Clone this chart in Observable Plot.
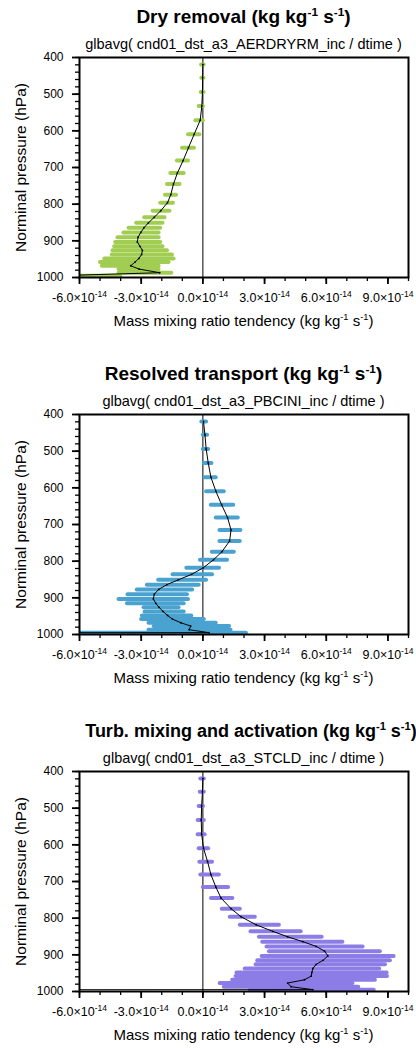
<!DOCTYPE html>
<html><head><meta charset="utf-8">
<script src="https://cdn.jsdelivr.net/npm/d3@7"></script>
<script src="https://cdn.jsdelivr.net/npm/@observablehq/plot@0.6"></script>
<style>
body{margin:0;background:#fff;font-family:"Liberation Sans",Arial,Helvetica,sans-serif;color:#000;}
#root{position:relative;width:416px;height:1049px;overflow:hidden;background:#fff;}
.panel{position:absolute;left:0;width:416px;height:357px;}
.title{position:absolute;top:6px;left:0;width:487px;text-align:center;font-weight:bold;font-size:19px;line-height:22px;white-space:nowrap;z-index:2;}
.sub{position:absolute;top:35px;left:0;width:487px;text-align:center;font-size:14.5px;line-height:18px;white-space:nowrap;z-index:2;}
.xt{position:absolute;top:312px;left:0;width:487px;text-align:center;font-size:15px;line-height:18px;white-space:nowrap;z-index:2;}
sup{font-size:0.62em;vertical-align:0.6em;line-height:0;}
svg{position:absolute;left:0;top:50px;z-index:1;}
</style>
</head><body>
<div id="root"></div>
<script>
// Pressure levels (hPa); last one is the surface-adjacent level with extreme values
const levels = [419, 455, 494, 532, 571, 609, 646, 681, 715, 745, 774, 796, 818, 836, 851, 864, 877, 890, 903, 915, 926, 937, 948, 958, 968, 977, 987, 995, 998];

// Values in units of 1e-14 kg kg-1 s-1
const dryMin  = [-0.06, -0.05, -0.08, -0.18, -0.34, -0.70, -0.99, -1.24, -1.56, -1.72, -1.82, -2.05, -2.42, -2.83, -3.22, -3.59, -3.84, -4.13, -4.24, -4.29, -4.37, -4.41, -4.77, -4.98, -4.89, -4.08, -4.08, -9.0, null];
const dryMax  = [0.06, 0.05, 0.06, 0.03, 0.02, -0.15, -0.41, -0.70, -0.91, -1.11, -1.28, -1.43, -1.60, -1.84, -1.94, -2.05, -2.13, -2.13, -2.05, -1.94, -1.72, -1.48, -1.40, -1.64, -2.13, -2.13, -1.51, -4.0, null];
const dryMean = [0.0, -0.01, -0.02, -0.05, -0.13, -0.42, -0.70, -0.96, -1.24, -1.43, -1.56, -1.72, -2.05, -2.37, -2.65, -2.86, -3.02, -3.15, -3.19, -3.06, -2.94, -2.98, -3.11, -3.30, -3.51, -3.10, -2.10, -7.0, -300];

const resMin  = [-0.05, 0.02, 0.02, 0.07, 0.11, 0.18, 0.41, 0.65, 0.83, 0.83, 0.46, -0.12, -0.78, -1.45, -2.15, -2.70, -3.19, -3.64, -4.08, -3.67, -2.86, -2.81, -2.94, -2.98, -2.62, -2.37, -2.62, -8.0, null];
const resMax  = [0.18, 0.23, 0.28, 0.44, 0.65, 1.04, 1.50, 1.72, 1.85, 1.82, 1.53, 1.20, 0.81, 0.47, 0.18, -0.18, -0.50, -0.75, -0.70, -0.91, -1.16, -0.91, -0.54, 0.07, 0.65, 1.30, 1.37, 2.12, null];
const resMean = [0.03, 0.10, 0.16, 0.26, 0.39, 0.63, 0.91, 1.20, 1.37, 1.30, 0.93, 0.52, 0.02, -0.55, -1.20, -1.75, -2.15, -2.36, -2.41, -2.29, -2.13, -1.94, -1.72, -1.48, -1.07, -0.59, -0.67, 0.30, -300];

const turbMin  = [-0.10, -0.13, -0.18, -0.23, -0.23, -0.18, -0.15, -0.10, 0.02, 0.42, 0.94, 1.33, 1.82, 2.34, 2.75, 2.91, 3.12, 3.24, 2.88, 2.67, 2.59, 2.06, 1.66, 1.61, 1.45, 0.84, 1.04, 2.31, null];
const turbMax  = [0.07, 0.07, 0.03, 0.07, 0.11, 0.28, 0.47, 0.80, 1.25, 1.46, 1.82, 2.55, 3.72, 4.78, 5.80, 6.81, 7.79, 8.63, 9.30, 9.12, 8.88, 8.60, 8.96, 8.98, 8.39, 7.30, 7.58, 8.33, null];
const turbMean = [0.0, -0.02, -0.06, -0.08, -0.06, 0.03, 0.23, 0.39, 0.63, 0.88, 1.37, 1.85, 2.59, 3.40, 4.13, 4.86, 5.51, 5.92, 6.08, 5.84, 5.51, 5.35, 5.30, 5.27, 4.94, 4.12, 4.29, 5.35, -300];

const titles = ["Dry removal", "Resolved transport", "Turb. mixing and activation"];
const subtitles = [
  "glbavg( cnd01_dst_a3_AERDRYRM_inc / dtime )",
  "glbavg( cnd01_dst_a3_PBCINI_inc / dtime )",
  "glbavg( cnd01_dst_a3_STCLD_inc / dtime )"
];
const colors = ["#a0cd52", "#4aa2d0", "#8c7de6"];
const xMajor = [-6, -3, 0, 3, 6, 9];          // ×1e-14
const xMinor = d3.range(-6, 10.5, 1);         // ×1e-14
const yMajor = [400, 500, 600, 700, 800, 900, 1000];
const yMinor = d3.range(400, 1001, 20);
const xDomain = [-6, 10];
const yDomain = [400, 1000];
const unit = 1e-14;

const series = [
  [dryMin, dryMax, dryMean],
  [resMin, resMax, resMean],
  [turbMin, turbMax, turbMean]
];

const unitsHTML = "(kg kg<sup>-1</sup> s<sup>-1</sup>)";
const root = document.getElementById("root");

series.forEach(([mn, mx, me], i) => {
  const rows = levels.map((p, k) => ({
    p,
    min: mn[k] == null ? null : mn[k] * unit,
    max: mx[k] == null ? null : mx[k] * unit,
    mean: me[k] * unit
  }));
  const bars = rows.filter(d => d.min != null);

  const panel = document.createElement("div");
  panel.className = "panel";
  panel.style.top = (i * 357) + "px";
  const titleStyle = i === 2 ? "width:502px;font-size:18px;" : "";
  panel.innerHTML =
    `<div class="title" style="${titleStyle}">${titles[i]} ${unitsHTML}</div>` +
    `<div class="sub">${subtitles[i]}</div>` +
    `<div class="xt">Mass mixing ratio tendency ${unitsHTML}</div>`;

  const svg = Plot.plot({
    width: 416,
    height: 262,
    marginLeft: 79,
    marginRight: 8,
    marginTop: 7,
    marginBottom: 35,
    style: {fontFamily: "'Liberation Sans', Arial, Helvetica, sans-serif", fontSize: "12px", color: "black", background: "transparent", overflow: "visible"},
    x: {domain: xDomain.map(v => v * unit), label: null},
    y: {domain: yDomain, reverse: true, label: null},
    marks: [
      Plot.ruleX([0], {stroke: "black", strokeWidth: 1}),
      Plot.ruleY(bars, {y: "p", x1: "min", x2: "max", stroke: colors[i], strokeWidth: 4, strokeLinecap: "round", clip: true}),
      Plot.line(rows, {x: "mean", y: "p", stroke: "black", strokeWidth: 1, clip: true}),
      Plot.dot(rows, {x: "mean", y: "p", r: 0.9, fill: "black", clip: true}),
      Plot.frame({stroke: "black", strokeWidth: 2}),
      Plot.axisX(xMinor.map(v => v * unit), {anchor: "bottom", tickSize: 4, strokeWidth: 1.3, tickFormat: () => "", label: null}),
      Plot.axisX(xMajor.map(v => v * unit), {anchor: "bottom", tickSize: 7, strokeWidth: 1.8, tickPadding: 9,
        tickFormat: d => (d / unit).toFixed(1) + "×10^-14", label: null, fontSize: 12.5}),
      Plot.axisY(yMinor, {anchor: "left", tickSize: 4, strokeWidth: 1.3, tickFormat: () => "", label: null}),
      Plot.axisY(yMajor, {anchor: "left", tickSize: 7, strokeWidth: 1.8, tickPadding: 9, tickFormat: d => String(d), label: null, fontSize: 12}),
      Plot.text(["Norminal pressure (hPa)"], {frameAnchor: "left", dx: -58, rotate: -90, textAnchor: "middle", lineAnchor: "middle", fontSize: 15.5, fill: "black"})
    ]
  });

  // superscript exponents on the x tick labels
  svg.querySelectorAll("text").forEach(t => {
    const s = t.textContent;
    if (s.includes("^")) {
      const [base, exp] = s.split("^");
      t.textContent = "";
      const a = document.createElementNS("http://www.w3.org/2000/svg", "tspan");
      a.textContent = base;
      const b = document.createElementNS("http://www.w3.org/2000/svg", "tspan");
      b.textContent = exp;
      b.setAttribute("dy", "-5");
      b.setAttribute("font-size", "8.5");
      t.appendChild(a);
      t.appendChild(b);
    }
  });

  panel.appendChild(svg);
  root.appendChild(panel);
});
</script>
</body></html>
